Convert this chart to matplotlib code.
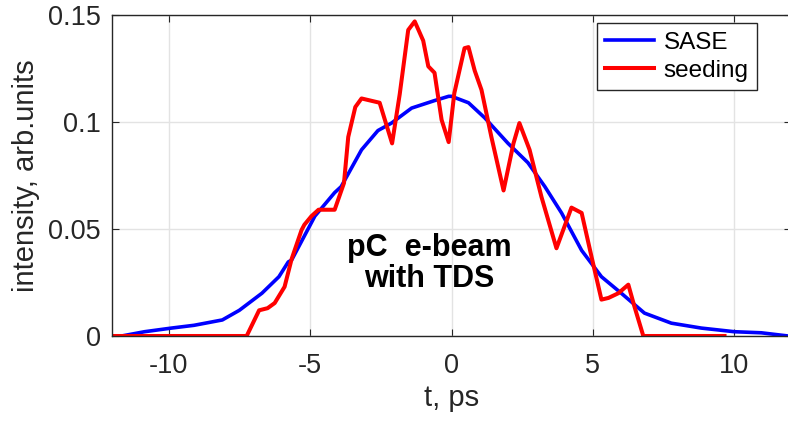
import numpy as np
import matplotlib
matplotlib.use('Agg')
import matplotlib.pyplot as plt

plt.rcParams['font.family'] = ['Liberation Sans', 'DejaVu Sans']
plt.rcParams['axes.unicode_minus'] = False

# SASE (blue) readings
t_sase = [-12.0, -11.66, -10.85, -9.9, -9.1, -8.1, -7.5, -6.7, -6.1, -5.77, -5.65,
          -4.83, -4.13, -3.9, -3.18, -2.6, -2.12, -1.41, -0.6, -0.1, 0.0, 0.6, 1.17,
          2.0, 2.7, 3.3, 3.89, 4.6, 5.3, 6.0, 6.82, 7.77, 8.83, 10.0, 10.95, 11.9, 12.0]
i_sase = [0.0, 0.0, 0.002, 0.0037, 0.005, 0.0075, 0.012, 0.02, 0.0277, 0.0346, 0.0355,
          0.056, 0.067, 0.0698, 0.087, 0.096, 0.0995, 0.1065, 0.110, 0.112, 0.112, 0.109, 0.102,
          0.090, 0.081, 0.0698, 0.0575, 0.040, 0.0277, 0.020, 0.0107, 0.006, 0.0037, 0.002, 0.0015, 0.0, 0.0]

# seeding (red) readings
t_seed = [-12.0, -7.24, -6.8, -6.5, -6.25, -5.9, -5.65, -5.3, -5.2, -4.95, -4.7, -4.13, -3.8,
          -3.65, -3.4, -3.18, -2.54, -2.1, -1.83, -1.53, -1.3, -1.0, -0.82, -0.6, -0.35,
          -0.1, 0.1, 0.46, 0.6, 0.82, 1.06, 1.41, 1.84, 2.19, 2.4, 2.76, 3.18, 3.71,
          4.24, 4.6, 4.95, 5.3, 5.55, 5.9, 6.25, 6.47, 6.78, 9.65]
i_seed = [0.0, 0.0, 0.012, 0.013, 0.0154, 0.023, 0.036, 0.0495, 0.052, 0.056, 0.059, 0.059, 0.0715,
          0.093, 0.107, 0.111, 0.109, 0.090, 0.113, 0.143, 0.147, 0.138, 0.126, 0.123, 0.101,
          0.0906, 0.1135, 0.1345, 0.135, 0.124, 0.115, 0.093, 0.068, 0.090, 0.0995, 0.087, 0.065, 0.041,
          0.060, 0.0575, 0.037, 0.017, 0.0178, 0.020, 0.024, 0.0136, 0.0, 0.0]

fig = plt.figure(figsize=(7.88, 4.22), dpi=100)
ax = fig.add_axes([112/788, 1-336/422, 679/788, 321/422])

ax.plot(t_sase, i_sase, color='#0000ff', lw=2.6, label='SASE')
ax.plot(t_seed, i_seed, color='#ff0000', lw=2.9, label='seeding')

ax.set_xlim(-12, 12)
ax.set_ylim(0, 0.15)
ax.set_xticks([-10, -5, 0, 5, 10])
ax.set_yticks([0, 0.05, 0.1, 0.15])
ax.set_yticklabels(['0', '0.05', '0.1', '0.15'])
ax.grid(True, color='#e3e3e3', lw=1)
ax.set_axisbelow(True)
for s in ax.spines.values():
    s.set_color('#262626')
    s.set_linewidth(1)
ax.tick_params(direction='in', top=True, right=True, labelsize=19.5, colors='#262626',
               length=5)
ax.tick_params(axis='x', pad=12)
ax.tick_params(axis='y', pad=8)

ax.set_xlabel('t, ps', fontsize=21, color='#262626', labelpad=4)
ax.set_ylabel('intensity, arb.units', fontsize=21, color='#262626', labelpad=6)

ax.text(-0.8, 0.034, 'pC  e-beam\nwith TDS', fontsize=22, fontweight='bold',
        ha='center', va='center', linespacing=1.05)

leg = ax.legend(loc='upper right', bbox_to_anchor=(757/788, 1-23/422),
                bbox_transform=fig.transFigure, fontsize=17.5, frameon=True,
                fancybox=False, framealpha=1, edgecolor='#262626',
                handlelength=2.0, handletextpad=0.4, borderpad=0.35, labelspacing=0.25,
                borderaxespad=0)
leg.get_frame().set_linewidth(1)

fig.savefig('out.png', dpi=100)
